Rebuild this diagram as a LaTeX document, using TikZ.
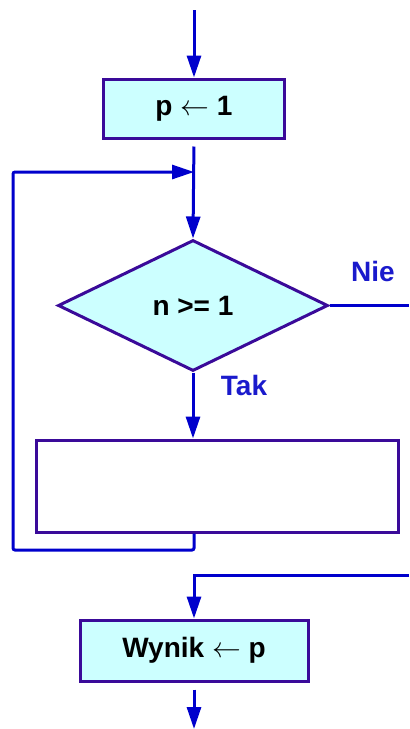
\documentclass[tikz,border=0pt]{standalone}
\usepackage{fontspec}
\setmainfont{Liberation Sans}
\usepackage{xcolor}
\usepackage{tikz}
\usetikzlibrary{arrows.meta, positioning, shapes.geometric}
\definecolor{fline}{HTML}{0000CC}
\definecolor{fframe}{HTML}{3A0A99}
\definecolor{ffill}{HTML}{CCFFFF}
\definecolor{flabel}{HTML}{1A1ACC}

\begin{document}
\begin{tikzpicture}[x=0.5pt, y=-0.5pt,
  procbox/.style={draw=fframe, fill=ffill, line width=1.5pt, inner sep=0pt,
    font=\fontsize{14}{16}\selectfont\bfseries},
  decbox/.style={diamond, draw=fframe, fill=ffill, line width=1.5pt, inner sep=0pt,
    font=\fontsize{14}{16}\selectfont\bfseries},
  flow/.style={draw=fline, line width=1.5pt, -{Triangle[length=11pt, width=7pt]}},
  plain/.style={draw=fline, line width=1.5pt},
  branch/.style={font=\fontsize{14}{16}\selectfont\bfseries, text=flabel}]
\useasboundingbox (0,0) rectangle (409,729);
% nodes
\node[procbox, minimum width=90.5pt, minimum height=29.5pt] (init) at (194,108.5) {p $\leftarrow$ 1};
\node[decbox, minimum width=135pt, minimum height=65.5pt] (test) at (193,305.5) {n >= 1};
\node[procbox, fill=white, minimum width=181pt, minimum height=46pt] (body) at (217,486) {};
\node[procbox, minimum width=114pt, minimum height=30.5pt] (result) at (194,650.5) {Wynik $\leftarrow$ p};
\node[branch] (nie) at (373,271) {Nie};
\node[branch] (tak) at (244,385) {Tak};
% free ends
\coordinate (top) at (194,10);
\coordinate (join) at (194,172);
\coordinate (back) at (13,550);
\coordinate (exit) at (409,305.5);
\coordinate (entry) at (409,575);
\coordinate (bottom) at (194,729);
% connectors
\draw[flow] (top) -- (init.north);
\draw[flow, shorten <=3.5pt] (init.south) -- (test.north);
\draw[flow] (test.south) -- (test.south |- body.north);
\draw[flow, rounded corners=1pt] (join |- body.south) |- (back) |- (join);
\draw[plain] (test.east) -- (exit);
\draw[flow] (entry) -| (result.north);
\draw[flow, shorten <=3.5pt] (result.south) -- (bottom);
\end{tikzpicture}
\end{document}
